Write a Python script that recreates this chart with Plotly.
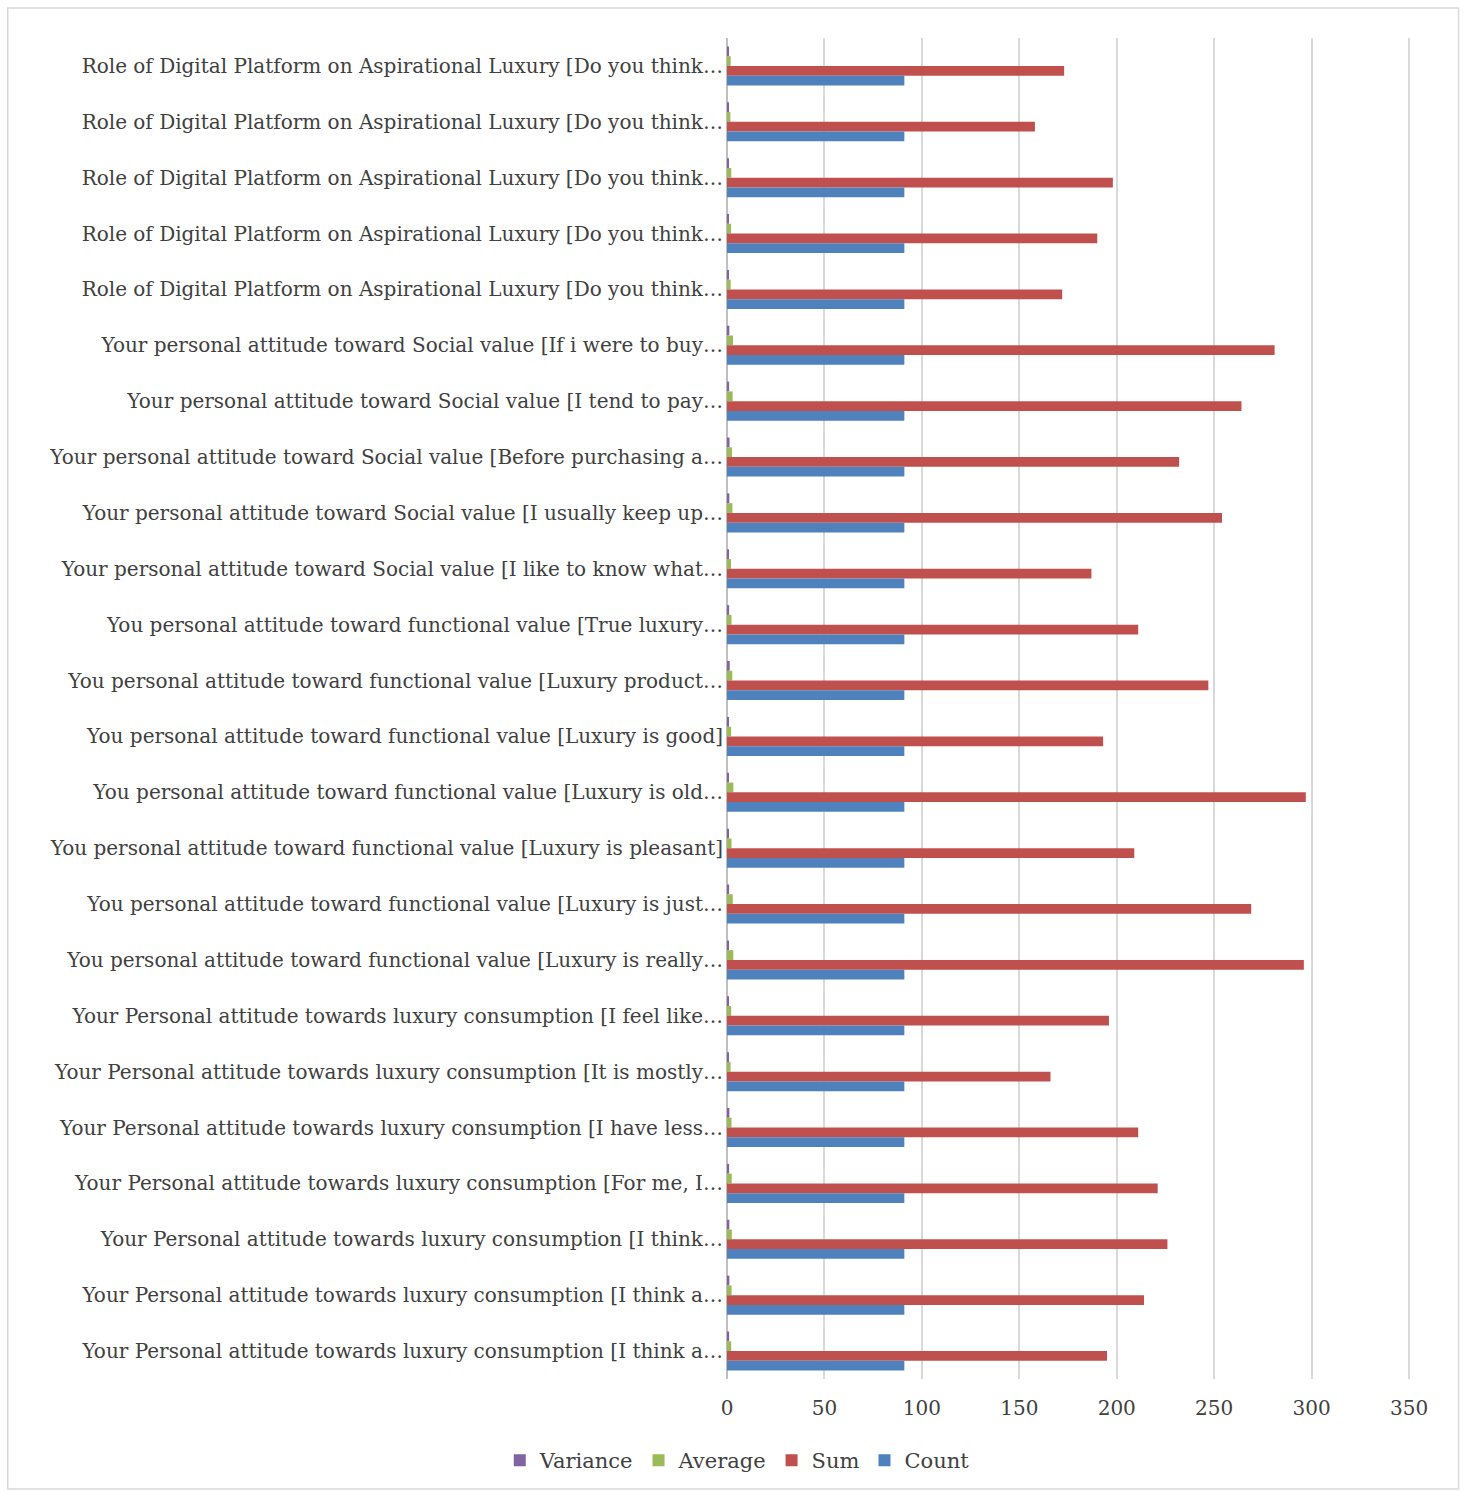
import plotly.graph_objects as go

# Categories, top to bottom as shown
categories = [
    "Role of Digital Platform on Aspirational Luxury [Do you think…",
    "Role of Digital Platform on Aspirational Luxury [Do you think…",
    "Role of Digital Platform on Aspirational Luxury [Do you think…",
    "Role of Digital Platform on Aspirational Luxury [Do you think…",
    "Role of Digital Platform on Aspirational Luxury [Do you think…",
    "Your personal attitude toward Social value [If i were to buy…",
    "Your personal attitude toward Social value [I tend to pay…",
    "Your personal attitude toward Social value [Before purchasing a…",
    "Your personal attitude toward Social value [I usually keep up…",
    "Your personal attitude toward Social value [I like to know what…",
    "You personal attitude toward functional value [True luxury…",
    "You personal attitude toward functional value [Luxury product…",
    "You personal attitude toward functional value [Luxury is good]",
    "You personal attitude toward functional value [Luxury is old…",
    "You personal attitude toward functional value [Luxury is pleasant]",
    "You personal attitude toward functional value [Luxury is just…",
    "You personal attitude toward functional value [Luxury is really…",
    "Your Personal attitude towards luxury consumption [I feel like…",
    "Your Personal attitude towards luxury consumption [It is mostly…",
    "Your Personal attitude towards luxury consumption [I have less…",
    "Your Personal attitude towards luxury consumption [For me, I…",
    "Your Personal attitude towards luxury consumption [I think…",
    "Your Personal attitude towards luxury consumption [I think a…",
    "Your Personal attitude towards luxury consumption [I think a…",
]

count = [91, 91, 91, 91, 91, 91, 91, 91, 91, 91, 91, 91,
         91, 91, 91, 91, 91, 91, 91, 91, 91, 91, 91, 91]
sum_vals = [173, 158, 198, 190, 172, 281, 264, 232, 254, 187, 211, 247,
            193, 297, 209, 269, 296, 196, 166, 211, 221, 226, 214, 195]
average = [1.9, 1.74, 2.18, 2.09, 1.89, 3.09, 2.9, 2.55, 2.79, 2.05, 2.32, 2.71,
           2.12, 3.26, 2.3, 2.96, 3.25, 2.15, 1.82, 2.32, 2.43, 2.48, 2.35, 2.14]
variance = [0.9, 0.7, 1.0, 0.9, 0.8, 1.2, 1.1, 1.3, 1.2, 1.0, 1.1, 1.4,
            1.0, 1.0, 0.9, 1.1, 1.0, 1.0, 0.9, 1.2, 1.1, 1.2, 1.2, 1.1]

tick_values = [0, 50, 100, 150, 200, 250, 300, 350]

positions = list(range(len(categories)))

font_family = "DejaVu Serif"
text_color = "#404040"

fig = go.Figure()
series = [
    ("Variance", variance, "#8064A2"),
    ("Average", average, "#9BBB59"),
    ("Sum", sum_vals, "#C0504D"),
    ("Count", count, "#4F81BD"),
]
for name, vals, color in series:
    fig.add_trace(go.Bar(
        x=vals, y=positions, name=name, orientation="h",
        marker=dict(color=color, line=dict(width=0)),
    ))

fig.update_layout(
    width=1465, height=1492,
    margin=dict(l=727, r=53, t=38, b=112),
    paper_bgcolor="white", plot_bgcolor="white",
    barmode="group", bargap=0.3, bargroupgap=0,
    font=dict(family=font_family, size=20, color=text_color),
    showlegend=True,
    legend=dict(orientation="h", x=0.015, xanchor="center", y=-0.06, yanchor="middle",
                font=dict(size=21, color=text_color), traceorder="normal",
                itemwidth=30, tracegroupgap=0),
    xaxis=dict(range=[0, 351.5], tickvals=tick_values,
               showgrid=True, gridcolor="#D9D9D9", gridwidth=1.5, zeroline=True,
               zerolinecolor="#BFBFBF", zerolinewidth=1.5, showline=False,
               tickfont=dict(size=20, color=text_color), ticks="", ticklen=0,
               ticklabelstandoff=15),
    yaxis=dict(tickvals=positions, ticktext=categories,
               showgrid=False, showline=False, ticks="",
               tickfont=dict(size=20, color=text_color), ticklabelstandoff=3),
    shapes=[dict(type="rect", xref="paper", yref="paper",
                 x0=-1.050, x1=1.068, y0=-0.082, y1=1.0224,
                 line=dict(color="#D9D9D9", width=1.5), fillcolor="rgba(0,0,0,0)")],
)
fig.update_yaxes(range=[len(categories) - 0.5, -0.5], autorange=False)

fig.write_html("out.html")
